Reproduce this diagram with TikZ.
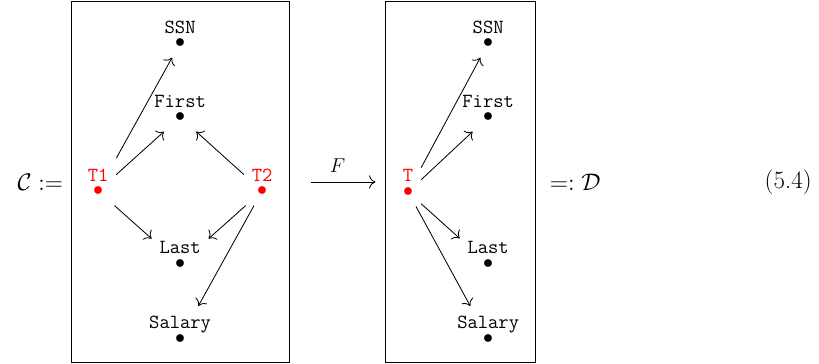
\documentclass[tikz,border=0pt]{standalone}
\usetikzlibrary{arrows.meta,positioning,cd}

% label stacked over a bullet, baseline on the bullet
\newcommand{\vtx}[1]{\vbox{\baselineskip=8.5pt\lineskiplimit=-20pt
  \halign{\hfil##\hfil\cr#1\cr$\bullet$\cr}}}

\begin{document}
\begin{tikzpicture}[>={Computer Modern Rightarrow[scale=1.4]},line width=0.5pt,
  vert/.style={shape=asymmetrical rectangle,font=\large\ttfamily,inner xsep=4.5pt,inner ysep=6pt},
  tvert/.style={vert,text=red},
  eq/.style={font=\fontsize{15}{18}\selectfont},
  panel/.style={draw,minimum height=7.6cm,inner sep=0pt}]
\useasboundingbox (0,-3.84) rectangle (17.28,3.84);
\node[panel,minimum width=4.6cm] (boxC) at (3.80,0) {};
\node[panel,minimum width=3.15cm] (boxD) at (9.715,0) {};
\node[eq,left=1pt of boxC] (lhs) {$\mathcal{C} :=$};
\node[eq,right=5pt of boxD] (rhs) {$=: \mathcal{D}$};
\node[eq,anchor=east] (eqno) at (17.25,0) {(5.4)};
% left panel
\node[vert] (ssnC) at (3.80,2.93) {\vtx{SSN}};
\node[vert] (firstC) at (3.80,1.37) {\vtx{First}};
\node[vert] (lastC) at (3.80,-1.73) {\vtx{Last}};
\node[vert] (salaryC) at (3.80,-3.31) {\vtx{Salary}};
\node[tvert] (t1) at (2.07,-0.19) {\vtx{T1}};
\node[tvert] (t2) at (5.53,-0.19) {\vtx{T2}};
\draw[->] (t1) -- (ssnC);
\draw[->] (t1) -- (firstC);
\draw[->] (t1) -- (lastC);
\draw[->] (t2) -- (firstC);
\draw[->] (t2) -- (lastC);
\draw[->] (t2) -- (salaryC);
% right panel
\node[vert] (ssnD) at (10.30,2.93) {\vtx{SSN}};
\node[vert] (firstD) at (10.30,1.37) {\vtx{First}};
\node[vert] (lastD) at (10.30,-1.73) {\vtx{Last}};
\node[vert] (salaryD) at (10.30,-3.31) {\vtx{Salary}};
\node[tvert] (t) at (8.61,-0.21) {\vtx{T}};
\draw[->] (t) -- (ssnD);
\draw[->] (t) -- (firstD);
\draw[->] (t) -- (lastD);
\draw[->] (t) -- (salaryD);
\draw[->,shorten <=13pt,shorten >=6pt] (boxC) -- node[above=2pt,font=\large] (flab) {$F$} (boxD);
\end{tikzpicture}
\end{document}
